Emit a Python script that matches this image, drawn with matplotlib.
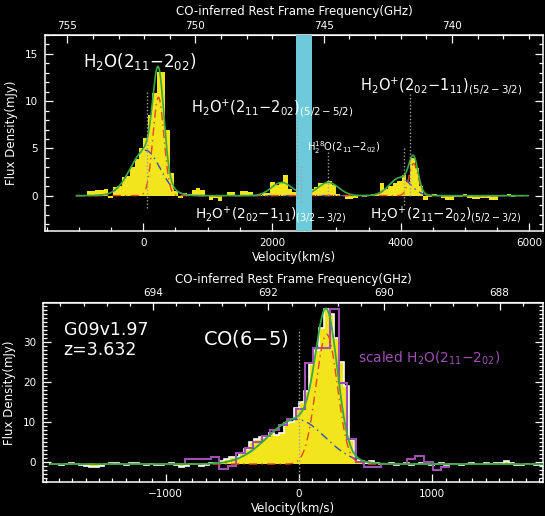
import numpy as np
import matplotlib
matplotlib.use("Agg")
import matplotlib.pyplot as plt
from matplotlib.ticker import MultipleLocator, FixedLocator

C_KMS = 299792.458
F0_H2O = 752.033   # GHz, H2O(211-202) rest frequency
F0_CO = 691.473    # GHz, CO(6-5) rest frequency

# ---------------- top panel: H2O spectrum (68 km/s channels) ----------------
h2o_v0 = -849.0
h2o_dv = 68.0
h2o_flux = [0.45, 0.5, 0.55, 0.6, 0.7, -0.3, 0.9, 1.0, 2.0, 2.1,
            3.0, 3.9, 5.0, 6.1, 8.5, 10.9, 13.1, 13.1, 7.0, 2.4,
            0.5, -0.3, 0.25, 0.2, 0.65, 0.85, 0.6, 0.1, -0.45, -0.3,
            -0.55, 0.0, 0.35, 0.35, 0.05, 0.45, 0.45, 0.4, 0.1, 0.1,
            0.25, 0.3, 1.4, 1.15, 1.3, 2.2, 0.7, 0.4, 0.3, 0.3,
            0.5, 0.75, 0.9, 1.3, 1.35, 1.6, 1.1, 0.2, 0.05, -0.35,
            -0.35, -0.3, 0.0, -0.1, 0.05, 0.2, 0.2, 1.3, 0.7, 1.0,
            1.3, 1.6, 2.2, 1.4, 4.0, 2.9, 1.0, -0.5, -0.15, 0.2,
            0.05, -0.3, -0.5, -0.5, -0.15, -0.1, 0.2, -0.3, -0.4, -0.4,
            -0.3, -0.3, -0.5, -0.5, 0.0, 0.0, 0.15, -0.1]

# Gaussian fit components (amp mJy, centre km/s, sigma km/s)
top_broad_amp = [4.8, 1.9]
top_broad_cen = [30.0, 3990.0]
top_broad_sig = [230.0, 165.0]
top_narrow_amp = [10.4, 3.4]
top_narrow_cen = [235.0, 4200.0]
top_narrow_sig = [85.0, 70.0]
top_other_amp = [1.4, 1.4]
top_other_cen = [2150.0, 2875.0]
top_other_sig = [160.0, 160.0]
top_fit_range = [-1040.0, 5980.0]

top_marker_v = [50, 2385, 2453, 2876, 4045, 4141]
top_marker_lo = [-1.3, -0.3, -0.7, 0.1, -1.0, 0.0]
top_marker_hi = [11.0, 8.3, 3.1, 4.6, 5.3, 11.0]
masked_band = [2380, 2620]
top_freq_ticks = [755, 750, 745, 740]

# ---------------- bottom panel: CO(6-5) (37.5 km/s channels) ----------------
co_v0 = -1856.25
co_dv = 37.5
co_flux = [-0.6, -0.5, -0.7, -0.6, -0.4, -0.6, -0.8, -1.0, -1.3, -1.2,
           -1.1, -0.5, -0.2, -0.3, -0.6, -0.7, -0.2, -0.3, -0.6, -0.7,
           -0.5, -0.8, -0.9, -0.6, -0.4, -0.7, -1.2, -1.1, -0.5, -0.6,
           -1.0, -0.8, -0.2, -0.4, 0.1, 0.6, 1.2, 1.1, 2.1, 3.3,
           4.9, 5.8, 6.3, 6.3, 7.1, 6.7, 7.2, 9.6, 10.0, 13.4,
           15.0, 17.6, 24.5, 28.0, 33.5, 38.3, 37.0, 31.0, 25.0, 19.0,
           5.4, 0.4, 0.1, -0.2, 0.2, -0.4, -0.5, -0.6, -0.3, -0.8,
           -0.6, -0.4, -0.7, -0.5, -0.3, -0.6, -0.8, -0.6, -0.4, -0.7,
           -0.5, -0.6, -0.7, -0.5, -0.4, -0.6, -0.5, -0.3, -0.6, -0.4,
           -0.3, 0.2, -0.4, -0.7, -0.8, -0.6, -0.5, -0.9, -0.7]

# scaled H2O spectrum (64 km/s channels)
sh2o_v0 = -1014.0
sh2o_dv = 64.0
sh2o_flux = [-0.6, -0.6, -0.6, 0.6, 0.6, 0.6, 1.1, -1.9, -1.1, 2.1,
             3.5, 5.0, 6.4, 7.9, 9.2, 10.6, 13.2, 24.6, 28.4, 28.4,
             38.1, 19.6, 5.8, 0.0, -1.25, -1.25, -0.5, -0.5, -0.5, 0.6,
             1.4, -0.1, -2.1, -1.25]

co_baseline = -0.6
bot_broad = [11.2, -20.0, 215.0]
bot_narrow = [32.5, 208.0, 80.0]
bot_fit_range = [-1865.0, 1840.0]
bot_marker = [0.0, -5.1, 33.3]
bot_freq_ticks = [694, 692, 690, 688]

# ---------------- colours ----------------
YELLOW = "#f3e51c"
GREEN = "#3aa843"
BLUE = "#2f4fc0"
RED = "#ea4420"
CYAN = "#6ccadb"
PURPLE = "#a050b4"
GRAY = "#a0a0a0"
DASHDOT = (0, (6, 3, 1, 3))
LABEL_FS = 8.5


def gauss(v, a, c, s):
    return a * np.exp(-0.5 * ((v - c) / s) ** 2)


plt.rcParams["font.family"] = ["DejaVu Sans"]
fig = plt.figure(figsize=(5.45, 5.16), dpi=100, facecolor="black")
ax1 = fig.add_axes([45 / 545, 1 - 231 / 516, (543.3 - 45) / 545, (231 - 35) / 516])
ax2 = fig.add_axes([43 / 545, 1 - 482.3 / 516, (543.3 - 43) / 545, (482.3 - 302.5) / 516])


def style(ax):
    ax.set_facecolor("black")
    for s in ax.spines.values():
        s.set_color("white")
        s.set_linewidth(1.1)
    ax.tick_params(which="both", direction="in", colors="white", labelsize=7.5,
                   top=False, right=True, left=True, bottom=True)
    ax.tick_params(which="major", length=6, width=0.9, pad=5)
    ax.tick_params(which="minor", length=3, width=0.9)


def style_sec(sec, ticks, minor):
    sec.xaxis.set_major_locator(FixedLocator(ticks))
    sec.xaxis.set_minor_locator(MultipleLocator(minor))
    sec.tick_params(which="both", direction="in", colors="white", labelsize=7.5)
    sec.tick_params(which="major", length=6, width=0.9, pad=3)
    sec.tick_params(which="minor", length=3, width=0.9)
    sec.spines["top"].set_color("white")
    sec.set_xlabel("CO-inferred Rest Frame Frequency(GHz)", color="white",
                   fontsize=LABEL_FS, labelpad=4)


# ================= top panel =================
style(ax1)
edges = h2o_v0 - h2o_dv / 2 + h2o_dv * np.arange(len(h2o_flux) + 1)
ax1.stairs(h2o_flux, edges, baseline=0, fill=True, color=YELLOW, lw=0, zorder=2)

vt = np.linspace(top_fit_range[0], top_fit_range[1], 2000)
blue_t = sum(gauss(vt, a, c, s) for a, c, s in zip(top_broad_amp, top_broad_cen, top_broad_sig))
red_t = sum(gauss(vt, a, c, s) for a, c, s in zip(top_narrow_amp, top_narrow_cen, top_narrow_sig))
other_t = sum(gauss(vt, a, c, s) for a, c, s in zip(top_other_amp, top_other_cen, top_other_sig))
ax1.plot(vt, blue_t, color=BLUE, ls=DASHDOT, lw=1.0, zorder=3)
ax1.plot(vt, red_t, color=RED, ls=DASHDOT, lw=1.0, zorder=3)
ax1.plot(vt, blue_t + red_t + other_t, color=GREEN, lw=1.2, zorder=4)
ax1.axvspan(masked_band[0], masked_band[1], color=CYAN, lw=0, zorder=5)
ax1.vlines(top_marker_v, top_marker_lo, top_marker_hi, colors=GRAY,
           linestyles=(0, (1, 1.5)), lw=1.0, zorder=6)

ax1.set_xlim(-1528, 6216)
ax1.set_ylim(-3.74, 17.0)
ax1.xaxis.set_major_locator(MultipleLocator(2000))
ax1.xaxis.set_minor_locator(MultipleLocator(500))
ax1.yaxis.set_major_locator(MultipleLocator(5))
ax1.yaxis.set_minor_locator(MultipleLocator(1))
ax1.set_xlabel("Velocity(km/s)", color="white", fontsize=LABEL_FS, labelpad=2)
ax1.set_ylabel("Flux Density(mJy)", color="white", fontsize=LABEL_FS, labelpad=5)

sec1 = ax1.secondary_xaxis("top", functions=(lambda v: F0_H2O * (1 - np.asarray(v) / C_KMS),
                                             lambda f: C_KMS * (1 - np.asarray(f) / F0_H2O)))
style_sec(sec1, top_freq_ticks, 1)

tw = dict(color="white", zorder=7)
ax1.text(-937, 13.6, r"H$_2$O(2$_{11}$$-$2$_{02}$)", fontsize=12, **tw)
ax1.text(741, 8.9, r"H$_2$O$^{+}$(2$_{11}$$-$2$_{02}$)$_{(5/2-5/2)}$", fontsize=10.5, **tw)
ax1.text(3368, 11.2, r"H$_2$O$^{+}$(2$_{02}$$-$1$_{11}$)$_{(5/2-3/2)}$", fontsize=10.5, **tw)
ax1.text(2542, 4.7, r"H$_2^{18}$O(2$_{11}$$-$2$_{02}$)", fontsize=7.2, **tw)
ax1.text(797, -2.5, r"H$_2$O$^{+}$(2$_{02}$$-$1$_{11}$)$_{(3/2-3/2)}$", fontsize=9.8, **tw)
ax1.text(3523, -2.5, r"H$_2$O$^{+}$(2$_{11}$$-$2$_{02}$)$_{(5/2-3/2)}$", fontsize=9.8, **tw)

# ================= bottom panel =================
style(ax2)
cedges = co_v0 - co_dv / 2 + co_dv * np.arange(len(co_flux) + 1)
ax2.stairs(co_flux, cedges, baseline=co_baseline, fill=True, color=YELLOW, lw=0, zorder=2)
ax2.stairs(co_flux, cedges, baseline=None, color="white", lw=1.2, zorder=3)
pedges = sh2o_v0 - sh2o_dv / 2 + sh2o_dv * np.arange(len(sh2o_flux) + 1)
ax2.stairs(sh2o_flux, pedges, baseline=None, color=PURPLE, lw=1.5, zorder=4)

vb = np.linspace(bot_fit_range[0], bot_fit_range[1], 2000)
blue_b = co_baseline + gauss(vb, *bot_broad)
red_b = co_baseline + gauss(vb, *bot_narrow)
green_b = co_baseline + gauss(vb, *bot_broad) + gauss(vb, *bot_narrow)
ax2.plot(vb, blue_b, color=BLUE, ls=DASHDOT, lw=1.0, zorder=5)
ax2.plot(vb, red_b, color=RED, ls=DASHDOT, lw=1.0, zorder=5)
ax2.plot(vb, green_b, color=GREEN, lw=1.3, zorder=6)
ax2.vlines([bot_marker[0]], bot_marker[1], bot_marker[2], colors=GRAY,
           linestyles=(0, (1, 1.5)), lw=1.0, zorder=7)

ax2.set_xlim(-1920, 1833)
ax2.set_ylim(-5.15, 39.85)
ax2.xaxis.set_major_locator(MultipleLocator(1000))
ax2.xaxis.set_minor_locator(MultipleLocator(100))
ax2.yaxis.set_major_locator(MultipleLocator(10))
ax2.yaxis.set_minor_locator(MultipleLocator(1))
ax2.set_xlabel("Velocity(km/s)", color="white", fontsize=LABEL_FS, labelpad=2)
ax2.set_ylabel("Flux Density(mJy)", color="white", fontsize=LABEL_FS, labelpad=5)

sec2 = ax2.secondary_xaxis("top", functions=(lambda v: F0_CO * (1 - np.asarray(v) / C_KMS),
                                             lambda f: C_KMS * (1 - np.asarray(f) / F0_CO)))
style_sec(sec2, bot_freq_ticks, 0.4)

ax2.text(-1766, 31.7, "G09v1.97", fontsize=12.5, **tw)
ax2.text(-1766, 26.7, "z=3.632", fontsize=12.5, **tw)
ax2.text(-720, 29.3, r"CO(6$-$5)", fontsize=14, **tw)
ax2.text(443, 24.9, r"scaled H$_2$O(2$_{11}$$-$2$_{02}$)", fontsize=9.9, color=PURPLE, zorder=7)

fig.savefig("out.png", dpi=100, facecolor="black")
